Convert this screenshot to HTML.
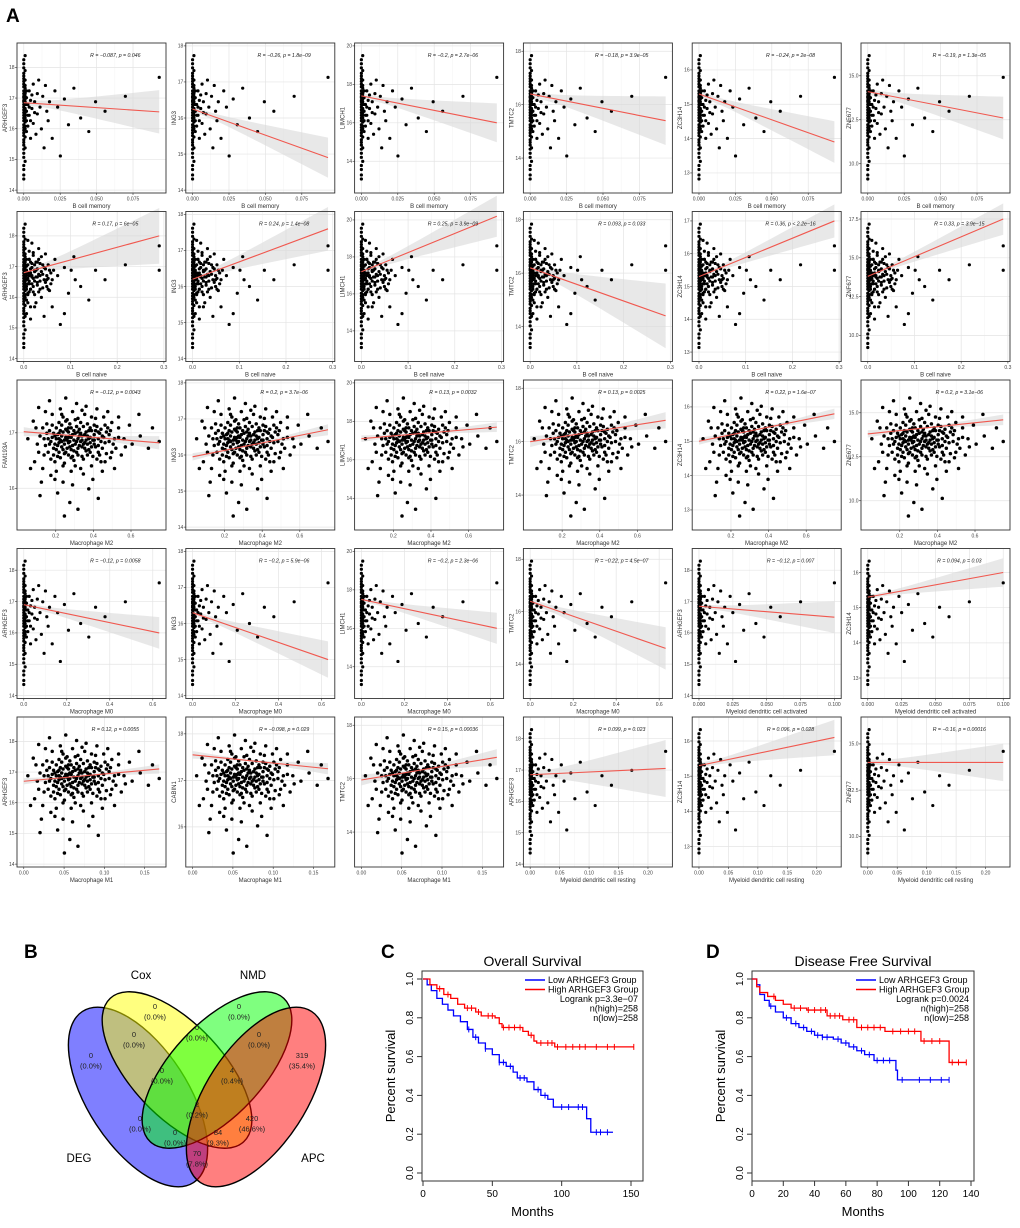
<!DOCTYPE html>
<html><head><meta charset="utf-8">
<style>
html,body{margin:0;padding:0;background:#fff;}
svg{display:block;font-family:"Liberation Sans",sans-serif;}
</style></head>
<body>
<svg id="fig" width="1020" height="1228" viewBox="0 0 1020 1228" xmlns="http://www.w3.org/2000/svg">
<rect width="1020" height="1228" fill="#fff"/>
<text x="6" y="22" font-size="19" font-weight="bold">A</text>
<text x="24" y="958" font-size="19" font-weight="bold">B</text>
<text x="381" y="958" font-size="19" font-weight="bold">C</text>
<text x="706" y="958" font-size="19" font-weight="bold">D</text>

<g id="venn">
  <ellipse cx="138" cy="1097" rx="102" ry="50" transform="rotate(57 138 1097)" fill="#0000ff" fill-opacity="0.5" stroke="#000" stroke-width="1.4"/>
  <ellipse cx="177" cy="1070" rx="98" ry="46" transform="rotate(47 177 1070)" fill="#ffff00" fill-opacity="0.5" stroke="#000" stroke-width="1.4"/>
  <ellipse cx="217" cy="1070" rx="98" ry="46" transform="rotate(-47 217 1070)" fill="#00ff00" fill-opacity="0.5" stroke="#000" stroke-width="1.4"/>
  <ellipse cx="256" cy="1097" rx="102" ry="50" transform="rotate(-57 256 1097)" fill="#ff0000" fill-opacity="0.5" stroke="#000" stroke-width="1.4"/>
  <text x="141" y="979" font-size="11.5" text-anchor="middle">Cox</text>
  <text x="253" y="979" font-size="11.5" text-anchor="middle">NMD</text>
  <text x="79" y="1162" font-size="11.5" text-anchor="middle">DEG</text>
  <text x="313" y="1162" font-size="11.5" text-anchor="middle">APC</text>
</g>
<g id="vennNums"></g>
<g id="scatters"></g>
<g id="survC"></g>
<g id="survD"></g>
</svg>
<script>
const NS="http://www.w3.org/2000/svg";
function mk(tag,attrs,parent){const e=document.createElementNS(NS,tag);for(const k in attrs)e.setAttribute(k,attrs[k]);parent.appendChild(e);return e;}

/* ---------- Venn data ---------- */
const vennCounts=["0","0","0","0","0","0","319","0","4","2","0","420","0","84","70"];
const vennPcts=["(0.0%)","(0.0%)","(0.0%)","(0.0%)","(0.0%)","(0.0%)","(35.4%)","(0.0%)","(0.4%)","(0.2%)","(0.0%)","(46.6%)","(0.0%)","(9.3%)","(7.8%)"];
const vennPosX=[155,239,134,197,259,91,302,162,232,197,140,252,175,218,197];
const vennPosY=[1009,1009,1037,1030,1037,1058,1058,1073,1073,1107,1121,1121,1135,1135,1156];
const vg=document.getElementById('vennNums');
for(let i=0;i<vennCounts.length;i++){
  const t=mk('text',{x:vennPosX[i],y:vennPosY[i],'font-size':'7.5','text-anchor':'middle',fill:'#222'},vg);
  
  
  t.textContent=vennCounts[i];
  const p=mk('text',{x:vennPosX[i],y:vennPosY[i]+10.5,'font-size':'7.5','text-anchor':'middle',fill:'#222'},vg);
  
  
  p.textContent=vennPcts[i];
}

/* ---------- Scatter panel data ---------- */
const genes=["ARHGEF3","ING3","LIMCH1","TMTC2","ZC3H14","ZNF677",
"ARHGEF3","ING3","LIMCH1","TMTC2","ZC3H14","ZNF677",
"FAM193A","ING3","LIMCH1","TMTC2","ZC3H14","ZNF677",
"ARHGEF3","ING3","LIMCH1","TMTC2","ARHGEF3","ZC3H14",
"ARHGEF3","CABIN1","TMTC2","ARHGEF3","ZC3H14","ZNF677"];
const xLabels=["B cell memory","B cell memory","B cell memory","B cell memory","B cell memory","B cell memory",
"B cell naive","B cell naive","B cell naive","B cell naive","B cell naive","B cell naive",
"Macrophage M2","Macrophage M2","Macrophage M2","Macrophage M2","Macrophage M2","Macrophage M2",
"Macrophage M0","Macrophage M0","Macrophage M0","Macrophage M0","Myeloid dendritic cell activated","Myeloid dendritic cell activated",
"Macrophage M1","Macrophage M1","Macrophage M1","Myeloid dendritic cell resting","Myeloid dendritic cell resting","Myeloid dendritic cell resting"];
const rTexts=["R = \u22120.087, p = 0.046","R = \u22120.26, p = 1.8e\u221209","R = \u22120.2, p = 2.7e\u221206","R = \u22120.18, p = 3.9e\u221205","R = \u22120.24, p = 2e\u221208","R = \u22120.19, p = 1.3e\u221205",
"R = 0.17, p = 6e\u221205","R = 0.24, p = 1.4e\u221208","R = 0.25, p = 3.9e\u221209","R = 0.093, p = 0.033","R = 0.36, p < 2.2e\u221216","R = 0.33, p = 3.9e\u221215",
"R = \u22120.12, p = 0.0043","R = 0.2, p = 3.7e\u221206","R = 0.13, p = 0.0032","R = 0.13, p = 0.0025","R = 0.22, p = 1.6e\u221207","R = 0.2, p = 3.1e\u221206",
"R = \u22120.12, p = 0.0058","R = \u22120.2, p = 5.9e\u221206","R = \u22120.2, p = 2.3e\u221206","R = \u22120.22, p = 4.5e\u221207","R = \u22120.12, p = 0.007","R = 0.094, p = 0.03",
"R = 0.12, p = 0.0055","R = \u22120.098, p = 0.029","R = 0.15, p = 0.00036","R = 0.099, p = 0.023","R = 0.096, p = 0.028","R = \u22120.16, p = 0.00016"];
const xMin=[0,0,0,0,0,0, 0,0,0,0,0,0, 0.03,0.03,0.03,0.03,0.03,0.03, 0,0,0,0,0,0, 0,0,0,0,0,0];
const xMax=[0.093,0.093,0.093,0.093,0.093,0.093, 0.29,0.29,0.29,0.29,0.29,0.29, 0.75,0.75,0.75,0.75,0.75,0.75, 0.63,0.63,0.63,0.63,0.1,0.1, 0.168,0.168,0.168,0.23,0.23,0.23];
const xTickSets={mem:["0.000","0.025","0.050","0.075"],naive:["0.0","0.1","0.2","0.3"],m2:["0.2","0.4","0.6"],m0:["0.0","0.2","0.4","0.6"],mdca:["0.000","0.025","0.050","0.075","0.100"],m1:["0.00","0.05","0.10","0.15"],mdcr:["0.00","0.05","0.10","0.15","0.20"]};
const xTickKey=["mem","mem","mem","mem","mem","mem","naive","naive","naive","naive","naive","naive","m2","m2","m2","m2","m2","m2","m0","m0","m0","m0","mdca","mdca","m1","m1","m1","mdcr","mdcr","mdcr"];
const yLo=[14,14,12.5,12.8,12.5,8.5, 14,14,12.5,12.8,12.8,8.5, 15.3,14,12.5,12.8,12.5,8.5, 14,14,12.5,12.8,14,12.5, 14,15.2,12.8,14,12.5,8.5];
const yHi=[18.7,18,20,18.2,16.7,16.7, 18.7,18,20.3,18.2,17.2,17.8, 17.9,18,20,18.2,16.7,16.7, 18.6,18,20,18.3,18.6,16.6, 18.7,18.3,18.2,18.6,16.6,16.3];
const yTickSets={a:["14","15","16","17","18"],l:["14","16","18","20"],t:["14","16","18"],z:["13","14","15","16"],zz:["13","14","15","16","17"],n:["10.0","12.5","15.0"],nn:["10.0","12.5","15.0","17.5"],f:["16","17"],c:["16","17","18"]};
const yTickKey=["a","a","l","t","z","n", "a","a","l","t","zz","nn", "f","a","l","t","z","n", "a","a","l","t","a","z", "a","c","t","a","z","n"];
const lineStart=[16.85,16.25,17.4,16.4,15.3,14.1, 16.8,16.2,17.2,16.2,15.3,13.8, 17.02,15.95,17.1,16.0,15.0,13.8, 16.9,16.3,17.5,16.4,16.85,15.3, 16.7,17.55,15.95,16.85,15.3,14.0];
const lineEnd=[16.55,14.9,16.0,15.4,13.9,12.6, 18.0,17.6,20.2,14.4,17.0,17.5, 16.82,16.7,17.7,16.8,15.8,14.6, 16.0,15.0,16.0,14.6,16.5,16.0, 17.1,17.25,16.8,17.05,16.1,14.0];
const ciEnd=[0.7,0.55,1.0,0.9,0.6,1.2, 0.9,0.6,1.1,1.2,0.5,1.0, 0.12,0.15,0.25,0.3,0.15,0.3, 0.5,0.5,0.8,0.8,0.5,0.4, 0.15,0.12,0.3,0.9,0.5,1.0];
const cloudType=["skew","skew","skew","skew","skew","skew","naive","naive","naive","naive","naive","naive","spread","spread","spread","spread","spread","spread","skew","skew","skew","skew","skew","skew","spread","spread","spread","skew","skew","skew"];

/* shared point clouds (x-share %, y-share %) */
const SKEW=[[0,5],[0,12],[1,18],[0,24],[1,28],[0,32],[1,36],[0,39],[1,42],[0,45],[1,47],[0,50],[1,52],[0,54],[1,56],[0,58],[1,60],[0,62],[1,64],[0,66],[1,68],[0,70],[1,72],[0,75],[1,78],[0,81],[1,85],[0,90],[1,96],[0,34],[0,48],[1,57],[0,63],[1,69],[0,8],[0,15],[0,21],[0,27],[0,30],[0,37],[0,41],[0,43],[0,52],[0,56],[0,60],[0,65],[0,68],[0,73],[0,77],[0,79],[0,83],[0,87],[0,93],[1,44],[1,50],[1,54],[1,62],[1,66],[1,74],[2,40],[2,55],[2,65],[2,48],[2,60],[2,70],[3,60],[3,44],[3,52],[4,70],[4,52],[4,58],[5,35],[5,63],[5,48],[6,57],[6,67],[7,75],[7,46],[8,62],[8,54],[9,38],[10,68],[10,53],[11,78],[12,58],[13,42],[14,66],[15,28],[16,74],[17,55],[18,48],[19,62],[21,35],[23,70],[25,58],[27,22],[30,64],[33,45],[37,72],[42,50],[48,40],[53,62],[60,55],[75,66],[100,80]];
const NAIVE_EXTRA=[[2,50],[2,58],[3,66],[3,45],[4,54],[4,70],[5,60],[5,48],[6,64],[6,52],[7,73],[7,56],[8,61],[8,44],[9,68],[9,57],[10,51],[10,63],[11,46],[11,59],[12,67],[12,54],[13,61],[14,49],[15,64],[16,53],[17,58],[18,66],[19,47],[20,60],[21,55],[22,62],[3,38],[4,76],[6,82],[8,35],[2,30],[5,26],[3,84],[13,72],[2,62],[3,56],[4,46],[5,68],[6,58],[7,50],[8,66],[9,62],[10,57],[11,70],[12,48],[14,59],[15,55],[16,63],[17,50],[18,56],[20,52],[30,30],[35,62],[38,55],[100,62]];
const SPREAD=[[20,60],[25,65],[30,58],[35,70],[40,62],[45,55],[50,68],[28,72],[33,50],[38,66],[42,74],[22,55],[18,62],[27,48],[31,63],[36,57],[41,69],[46,61],[52,58],[56,66],[60,72],[24,70],[29,78],[34,64],[39,52],[44,47],[49,63],[54,71],[58,55],[63,60],[15,50],[19,68],[23,45],[26,59],[32,76],[37,61],[43,56],[47,73],[51,49],[55,62],[61,67],[66,58],[12,64],[17,73],[21,80],[26,66],[30,44],[35,54],[40,77],[45,65],[50,42],[55,52],[59,78],[64,48],[70,63],[14,40],[18,52],[24,38],[28,56],[32,68],[37,46],[42,60],[48,54],[53,77],[57,45],[62,70],[68,55],[74,62],[10,58],[16,82],[22,66],[27,84],[33,59],[38,42],[43,83],[47,50],[52,65],[57,60],[65,74],[72,50],[80,58],[86,64],[92,55],[8,45],[13,30],[20,35],[29,30],[36,28],[44,36],[51,32],[58,38],[67,40],[12,20],[25,22],[34,15],[48,25],[40,10],[30,5],[55,18],[7,75],[11,85],[19,90],[31,92],[39,88],[46,86],[54,84],[62,82],[70,78],[78,72],[85,80],[95,70],[100,60],[3,62],[5,40],[9,70],[23,58],[35,63],[41,57],[49,59],[26,52],[33,67],[44,71],[38,58],[30,61],[21,63],[27,61],[32,55],[36,65],[43,64],[47,58],[24,62],[29,67],[39,60],[34,73],[16,57],[53,56],
[22,50],[25,57],[28,64],[31,52],[34,60],[37,68],[40,55],[43,49],[46,67],[49,52],[52,72],[55,57],[58,64],[61,51],[64,68],[67,62],[19,58],[21,72],[24,54],[27,68],[30,51],[33,63],[36,49],[39,71],[42,66],[45,59],[48,68],[51,61],[54,47],[57,69],[60,59],[63,65],[26,74],[29,54],[32,61],[35,48],[38,76],[41,64],[44,58],[47,64],[50,56],[53,68],[56,50],[59,63],[17,66],[20,47],[23,64],[25,49],[28,60],[31,69],[34,56],[37,53],[40,67],[43,61],[46,53],[49,70],[52,61],[55,67],[29,42],[35,38],[42,40],[23,32],[45,80],[36,82],[28,80],[50,78],[60,45],[15,62],[11,52],[65,52],[70,70],[75,56],[14,70],[31,75],[40,50],[48,62],[33,70],[26,62]];
const CLOUDS={skew:SKEW,naive:SKEW.concat(NAIVE_EXTRA),spread:SPREAD};

const sg=document.getElementById('scatters');
for(let i=0;i<30;i++){
  const col=i%6,row=Math.floor(i/6);
  const L=17+col*168.8, T=43+row*168.5, W=149, H=150;
  const g=mk('g',{},sg);
  
  
  const x0=xMin[i],x1=xMax[i],ex=(x1-x0)*0.05;
  const sx=v=>L+(v-(x0-ex))/((x1-x0)+2*ex)*W;
  const y0=yLo[i],y1=yHi[i],ey=(y1-y0)*0.02;
  const sy=v=>T+H-(v-(y0-ey))/((y1-y0)+2*ey)*H;
  mk('rect',{x:L,y:T,width:W,height:H,fill:'#fff'},g);
  const xt=xTickSets[xTickKey[i]], yt=yTickSets[yTickKey[i]];
  xt.forEach((s,k)=>{const v=parseFloat(s);const X=sx(v);
    if(k<xt.length-1){const v2=parseFloat(xt[k+1]);const Xm=sx((v+v2)/2);mk('line',{x1:Xm,x2:Xm,y1:T,y2:T+H,stroke:'#f3f3f3','stroke-width':0.5},g);}
    mk('line',{x1:X,x2:X,y1:T,y2:T+H,stroke:'#e4e4e4','stroke-width':0.7},g);
    mk('line',{x1:X,x2:X,y1:T+H,y2:T+H+2,stroke:'#333','stroke-width':0.6},g);
    const t=mk('text',{x:X,y:T+H+7.5,'font-size':'5','text-anchor':'middle',fill:'#444'},g);
    
    
    t.textContent=s;});
  yt.forEach(s=>{const Y=sy(parseFloat(s));
    mk('line',{x1:L,x2:L+W,y1:Y,y2:Y,stroke:'#e4e4e4','stroke-width':0.7},g);
    mk('line',{x1:L-2,x2:L,y1:Y,y2:Y,stroke:'#333','stroke-width':0.6},g);
    const t=mk('text',{x:L-2.5,y:Y+1.8,'font-size':'5','text-anchor':'end',fill:'#444'},g);
    
    
    t.textContent=s;});
  const tc=cloudType[i]==='spread'?0.4:0.08;
  const up=[],dn=[];
  for(let s=0;s<=20;s++){const tt=s/20;const xv=x0+tt*(x1-x0);const yv=lineStart[i]+tt*(lineEnd[i]-lineStart[i]);
    const hw=ciEnd[i]*Math.sqrt(0.02+Math.pow(tt-tc,2)/Math.pow(1-tc,2));
    up.push(sx(xv)+','+sy(yv+hw));dn.unshift(sx(xv)+','+sy(yv-hw));}
  const band=mk('polygon',{points:up.concat(dn).join(' '),fill:'#d9d9d9','fill-opacity':0.6},g);
  
  
  const pts=CLOUDS[cloudType[i]];
  const m=0.03;
  const rad=cloudType[i]==='spread'?1.75:1.6;
  pts.forEach(p=>{const xv=x0+p[0]/100*(x1-x0);const yv=y0+(m+p[1]/100*(1-2*m))*(y1-y0);
    const c=mk('circle',{cx:sx(xv),cy:sy(yv),r:rad,fill:'#000'},g);
    
    });
  const ln=mk('line',{x1:sx(x0),y1:sy(lineStart[i]),x2:sx(x1),y2:sy(lineEnd[i]),stroke:'#f0584f','stroke-width':1.1},g);
  
  
  mk('rect',{x:L,y:T,width:W,height:H,fill:'none',stroke:'#333','stroke-width':0.9},g);
  const rt=mk('text',{x:L+W*0.66,y:T+14,'font-size':'5.2','text-anchor':'middle',fill:'#222','font-style':'italic'},g);
  
  
  rt.textContent=rTexts[i];
  const xl=mk('text',{x:L+W/2,y:T+H+15,'font-size':'6','text-anchor':'middle',fill:'#333'},g);
  
  
  xl.textContent=xLabels[i];
  const yl=mk('text',{x:0,y:0,'font-size':'6','text-anchor':'middle',fill:'#333',transform:'translate('+(L-10)+','+(T+H/2)+') rotate(-90)'},g);
  
  
  yl.textContent=genes[i];
}

/* ---------- Survival data ---------- */
const osLowT=[0,3,6,10,14,18,22,27,32,36,40,45,50,55,60,65,68,75,80,85,90,94,118,121,137];
const osLowS=[1,0.97,0.94,0.90,0.87,0.84,0.81,0.78,0.74,0.70,0.67,0.64,0.61,0.57,0.55,0.52,0.49,0.47,0.43,0.40,0.38,0.34,0.28,0.21,0.21];
const osHighT=[0,5,10,15,20,25,30,38,42,52,55,57,72,76,80,82,95,152];
const osHighS=[1,0.97,0.95,0.92,0.90,0.87,0.85,0.83,0.81,0.80,0.77,0.75,0.73,0.71,0.68,0.67,0.65,0.65];
const osLowCens=[33,38,45,55,58,63,70,73,83,88,100,105,112,115,125,128,133];
const osHighCens=[12,18,32,35,40,47,50,58,62,66,70,78,85,90,93,97,103,108,113,117,125,133,138,152];
const dfsLowT=[0,3,5,8,11,15,20,25,30,35,40,45,52,57,62,67,72,78,92,93,126];
const dfsLowS=[1,0.97,0.92,0.89,0.86,0.83,0.80,0.77,0.75,0.73,0.71,0.70,0.69,0.67,0.65,0.63,0.61,0.58,0.53,0.48,0.48];
const dfsHighT=[0,3,5,10,15,20,25,35,48,58,67,85,108,126,137];
const dfsHighS=[1,0.96,0.93,0.91,0.89,0.87,0.85,0.84,0.81,0.79,0.75,0.73,0.68,0.57,0.57];
const dfsLowCens=[12,22,28,33,38,42,45,48,55,60,65,70,75,80,84,88,96,107,114,121,126];
const dfsHighCens=[14,27,31,36,40,44,47,50,53,56,62,65,70,74,78,82,90,95,100,104,110,115,120,128,132,137];

function survival(gid,box,xmax,xticks,title,pval,lowT,lowS,highT,highS,lowC,highC,nm){
  const g=document.getElementById(gid);
  
  
  const L=box[0],R=box[1],T=971,B=1181;
  const X0=box[2],X1=box[3],Y1=979,Y0=1173;
  const sx=v=>X0+v/xmax*(X1-X0), sy=v=>Y0-v*(Y0-Y1);
  mk('rect',{x:L,y:T,width:R-L,height:B-T,fill:'none',stroke:'#333','stroke-width':1},g);
  const tt=mk('text',{x:(L+R)/2,y:966,'font-size':'14','text-anchor':'middle',fill:'#000'},g);
  
  
  tt.textContent=title;
  xticks.forEach(v=>{mk('line',{x1:sx(v),x2:sx(v),y1:B,y2:B+5,stroke:'#333'},g);
    const t=mk('text',{x:sx(v),y:B+16,'font-size':'10','text-anchor':'middle'},g);
    
    
    t.textContent=v;});
  [0,0.2,0.4,0.6,0.8,1.0].forEach(v=>{mk('line',{x1:L-5,x2:L,y1:sy(v),y2:sy(v),stroke:'#333'},g);
    const t=mk('text',{x:0,y:0,'font-size':'10','text-anchor':'middle',transform:'translate('+(L-9)+','+sy(v)+') rotate(-90)'},g);
    
    
    t.textContent=v.toFixed(1);});
  const xa=mk('text',{x:(L+R)/2,y:1216,'font-size':'13','text-anchor':'middle'},g);
  
  
  xa.textContent='Months';
  const ya=mk('text',{x:0,y:0,'font-size':'13','text-anchor':'middle',transform:'translate('+(L-27)+','+((T+B)/2)+') rotate(-90)'},g);
  
  
  ya.textContent='Percent survival';
  function curve(Ts,Ss,Cs,color,name){
    let d='M'+sx(Ts[0])+','+sy(Ss[0]);
    for(let k=1;k<Ts.length;k++){d+=' H'+sx(Ts[k])+' V'+sy(Ss[k]);}
    const p=mk('path',{d:d,fill:'none',stroke:color,'stroke-width':1.3},g);
    
    
    Cs.forEach(c=>{let s=Ss[0];for(let k=0;k<Ts.length;k++){if(Ts[k]<=c)s=Ss[k];}
      const m=mk('line',{x1:sx(c),x2:sx(c),y1:sy(s)-3,y2:sy(s)+3,stroke:color,'stroke-width':1},g);
      
      });
  }
  curve(lowT,lowS,lowC,'#0000ff','low-group-curve');
  curve(highT,highS,highC,'#ff0000','high-group-curve');
  const lx=R-118;
  const items=[['Low ARHGEF3 Group','#0000ff'],['High ARHGEF3 Group','#ff0000']];
  items.forEach((it,k)=>{const y=983+k*9.5;
    mk('line',{x1:lx,x2:lx+20,y1:y-3,y2:y-3,stroke:it[1],'stroke-width':1.5},g);
    const t=mk('text',{x:lx+23,y:y,'font-size':'9'},g);
    
    
    t.textContent=it[0];});
  ['Logrank p='+pval,'n(high)=258','n(low)=258'].forEach((s,k)=>{
    const t=mk('text',{x:R-5,y:1002+k*9.5,'font-size':'9','text-anchor':'end'},g);
    
    
    t.textContent=s;});
}
survival('survC',[422,643,423,631],150,[0,50,100,150],'Overall Survival','3.3e\u221207',osLowT,osLowS,osHighT,osHighS,osLowCens,osHighCens,'overall-survival-chart');
survival('survD',[752,974,752,971],140,[0,20,40,60,80,100,120,140],'Disease Free Survival','0.0024',dfsLowT,dfsLowS,dfsHighT,dfsHighS,dfsLowCens,dfsHighCens,'disease-free-survival-chart');
</script>
</body></html>
